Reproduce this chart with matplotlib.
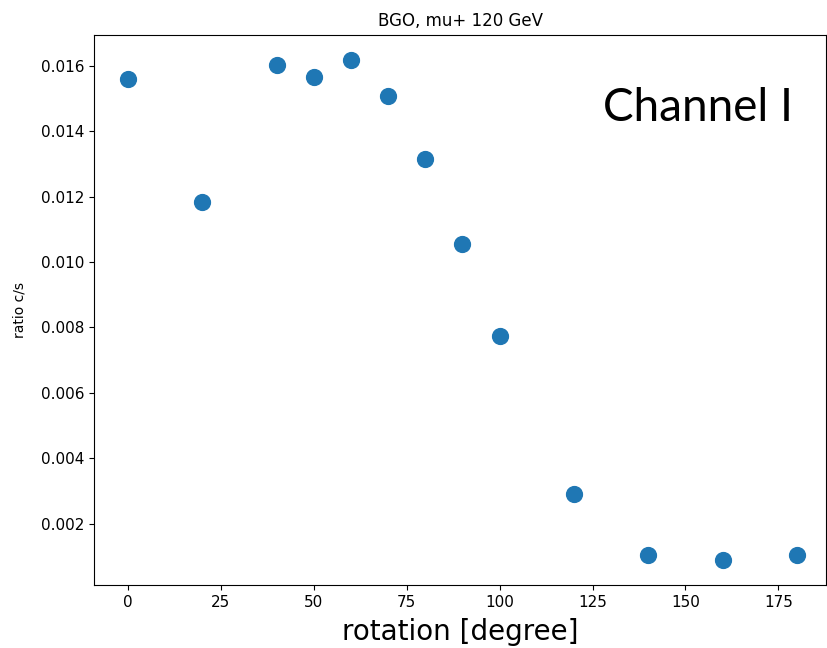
import matplotlib
matplotlib.use('Agg')
import matplotlib.pyplot as plt

# rotation angle [degree] and measured ratio c/s
rotation = [0, 20, 40, 50, 60, 70, 80, 90, 100, 120, 140, 160, 180]
ratio = [0.01560, 0.01184, 0.01602, 0.01565, 0.01617, 0.01508, 0.01316,
         0.01056, 0.00775, 0.00292, 0.00104, 0.00090, 0.00105]

fig = plt.figure(figsize=(8.28, 6.48), dpi=100)
ax = fig.add_axes([0.1135, 0.0975, 0.8845, 0.849])
ax.scatter(rotation, ratio, s=130, color='#1f77b4')

ax.set_title('BGO, mu+ 120 GeV', fontsize=12)
ax.set_xlabel('rotation [degree]', fontsize=20, labelpad=6)
ax.set_ylabel('ratio c/s', fontsize=10, labelpad=10)
ax.tick_params(labelsize=11)
ax.set_xlim(-9.1, 187.9)
ax.set_ylim(0.000135, 0.01695)

ax.text(0.955, 0.867, 'Channel I', transform=ax.transAxes, ha='right', va='center',
        fontsize=33, family='Lato')

fig.savefig('out.png', dpi=100)
